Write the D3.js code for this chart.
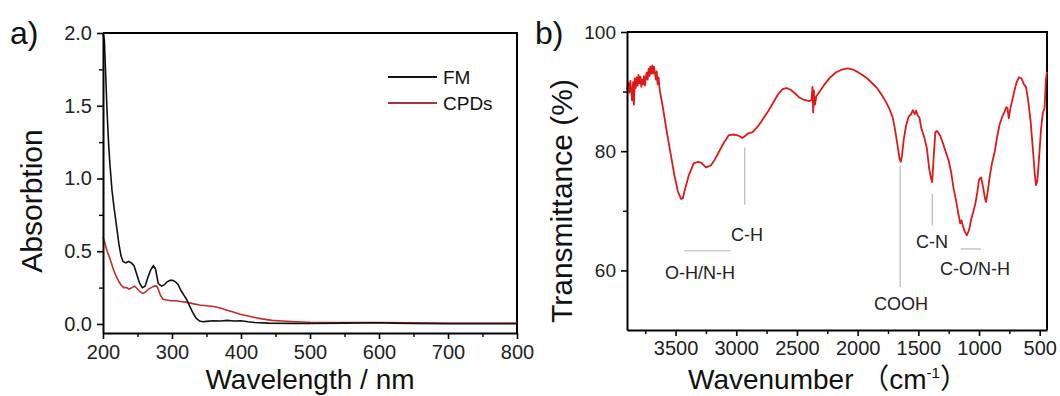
<!DOCTYPE html>
<html>
<head>
<meta charset="utf-8">
<script src="https://cdn.jsdelivr.net/npm/d3@7"></script>
<style>
  body { margin: 0; background: #fff; }
  svg { display: block; font-family: "Liberation Sans", Arial, sans-serif; }
</style>
</head>
<body>
<div id="chart"></div>
<script>
// panel a) UV-vis absorption
var fmWavelength = [200, 202, 204, 206, 208, 210, 213, 216, 220, 223, 226, 229, 233, 237, 241, 245, 249, 253, 257, 261, 265, 269, 273, 276, 278, 280, 282, 285, 289, 293, 297, 301, 305, 309, 313, 317, 321, 325, 330, 335, 340, 345, 350, 360, 370, 380, 390, 400, 410, 420, 440, 470, 500, 550, 600, 620, 650, 700, 750, 800];
var fmAbs = [2.0, 1.95, 1.7, 1.45, 1.25, 1.1, 0.92, 0.8, 0.66, 0.55, 0.47, 0.43, 0.42, 0.43, 0.42, 0.4, 0.34, 0.28, 0.25, 0.26, 0.32, 0.37, 0.4, 0.38, 0.33, 0.28, 0.27, 0.26, 0.27, 0.29, 0.3, 0.3, 0.29, 0.27, 0.23, 0.2, 0.17, 0.13, 0.08, 0.04, 0.02, 0.015, 0.018, 0.022, 0.02, 0.025, 0.02, 0.022, 0.015, 0.01, 0.006, 0.004, 0.003, 0.006, 0.008, 0.006, 0.003, 0.002, 0.002, 0.002];
var cpdWavelength = [200, 203, 206, 210, 214, 218, 222, 226, 230, 234, 238, 242, 246, 250, 254, 258, 262, 266, 270, 274, 278, 280, 283, 287, 292, 298, 305, 312, 320, 330, 340, 350, 360, 370, 380, 390, 400, 410, 420, 430, 445, 460, 480, 500, 550, 600, 650, 700, 750, 800];
var cpdAbs = [0.6, 0.55, 0.5, 0.45, 0.39, 0.34, 0.3, 0.27, 0.25, 0.25, 0.24, 0.25, 0.26, 0.24, 0.22, 0.21, 0.22, 0.24, 0.25, 0.26, 0.26, 0.24, 0.2, 0.17, 0.165, 0.16, 0.16, 0.155, 0.15, 0.14, 0.13, 0.125, 0.12, 0.11, 0.095, 0.08, 0.065, 0.055, 0.045, 0.035, 0.025, 0.02, 0.015, 0.012, 0.01, 0.01, 0.008, 0.007, 0.007, 0.007];
var absTicks = [0.0, 0.5, 1.0, 1.5, 2.0];
var absMinor = [0.25, 0.75, 1.25, 1.75];
var wlTicks = [200, 300, 400, 500, 600, 700, 800];
var wlMinor = [250, 350, 450, 550, 650, 750];

// panel b) FTIR
var irWavenumber = [3900, 3890, 3880, 3872, 3865, 3858, 3850, 3843, 3836, 3828, 3820, 3812, 3805, 3798, 3790, 3782, 3775, 3768, 3760, 3752, 3745, 3738, 3730, 3722, 3715, 3708, 3700, 3692, 3685, 3678, 3670, 3662, 3655, 3648, 3640, 3630, 3610, 3590, 3570, 3540, 3510, 3480, 3455, 3440, 3420, 3390, 3350, 3310, 3284, 3250, 3210, 3180, 3140, 3100, 3060, 3020, 2980, 2950, 2930, 2900, 2865, 2820, 2780, 2740, 2700, 2660, 2620, 2585, 2550, 2510, 2480, 2440, 2400, 2380, 2372, 2366, 2360, 2352, 2340, 2320, 2280, 2230, 2180, 2130, 2080, 2040, 2000, 1960, 1920, 1880, 1840, 1800, 1770, 1740, 1710, 1690, 1670, 1655, 1645, 1635, 1620, 1600, 1580, 1560, 1545, 1530, 1518, 1505, 1490, 1475, 1462, 1452, 1430, 1410, 1395, 1386, 1375, 1360, 1345, 1320, 1295, 1270, 1250, 1230, 1210, 1190, 1170, 1155, 1145, 1135, 1120, 1100, 1082, 1065, 1045, 1030, 1015, 1000, 983, 965, 950, 942, 930, 910, 893, 870, 850, 830, 810, 790, 775, 765, 755, 745, 730, 710, 690, 671, 650, 630, 613, 595, 575, 555, 540, 531, 520, 505, 490, 475, 460, 449, 440];
var irT = [90.3, 91.5, 89.8, 91.8, 90.2, 88.5, 91.6, 87.8, 92.2, 90.6, 92.4, 91.0, 92.8, 91.4, 92.5, 90.8, 92.0, 91.2, 92.6, 91.0, 92.4, 93.2, 92.0, 93.8, 92.6, 94.2, 93.0, 94.4, 93.0, 94.2, 93.2, 92.0, 93.4, 91.2, 92.4, 90.2, 88.0, 85.5, 83.0, 79.5, 76.0, 73.2, 72.0, 72.1, 73.8, 76.0, 78.0, 78.2, 78.0, 77.3, 77.6, 78.5, 80.0, 81.5, 82.7, 82.8, 82.6, 82.2, 82.5, 83.0, 83.2, 84.2, 85.4, 86.6, 88.0, 89.4, 90.4, 90.6, 90.3, 89.6, 89.0, 88.6, 88.4, 88.6, 90.8, 86.5, 90.2, 87.8, 89.2, 89.8, 91.0, 92.3, 93.2, 93.7, 93.9, 93.7, 93.3, 92.8, 92.2, 91.4, 90.6, 89.4, 88.4, 87.2, 85.6, 83.4, 80.8, 78.8, 78.2, 79.2, 82.0, 84.4, 85.8, 86.2, 86.9, 86.2, 86.8, 86.0, 85.6, 83.8, 83.0, 82.4, 80.5, 77.0, 75.4, 74.8, 78.5, 83.2, 83.4, 82.6, 81.2, 79.6, 78.4, 76.5, 73.8, 71.8, 69.5, 67.9, 68.4, 67.6, 66.6, 65.9, 66.8, 68.5, 70.0, 71.2, 73.0, 75.2, 75.6, 73.8, 72.0, 71.5, 73.0, 76.0, 78.0, 80.0, 82.5, 84.5, 85.7, 86.6, 87.4, 87.2, 85.5, 86.8, 88.2, 90.0, 91.6, 92.4, 92.2, 91.2, 90.8, 88.5, 85.0, 80.0, 76.0, 74.3, 75.0, 79.0, 83.5, 86.4, 87.2, 92.0, 93.3];
var tTicks = [60, 80, 100];
var tMinor = [70, 90];
var wnTicks = [3500, 3000, 2500, 2000, 1500, 1000, 500];
var wnMinor = [3750, 3250, 2750, 2250, 1750, 1250, 750];

var svg = d3.select("#chart").append("svg")
  .attr("width", 1060)
  .attr("height", 396);

function drawFrame(g, x, y) {
  var x0 = x.range()[0], x1 = x.range()[1], y0 = y.range()[0], y1 = y.range()[1];
  g.append("path")
    .attr("d", "M" + x0 + "," + y1 + "H" + x1 + "V" + y0)
    .attr("fill", "none").attr("stroke", "#000").attr("stroke-width", 2);
}

function styleAxis(a, size) {
  a.select(".domain").attr("stroke-width", 2);
  a.selectAll(".tick line").attr("stroke-width", 1.6);
  a.selectAll(".tick text").attr("font-size", size).attr("fill", "#222")
    .attr("font-family", "'Liberation Sans', Arial, sans-serif");
}

// ---- panel a ----
var xa = d3.scaleLinear().domain([200, 800]).range([103, 517]);
var ya = d3.scaleLinear().domain([-0.062, 2.0]).range([333, 33]);
var ga = svg.append("g");

drawFrame(ga, xa, ya);

var lineA = d3.line().x(function (d) { return xa(d[0]); }).y(function (d) { return ya(d[1]); });

ga.append("path")
  .datum(d3.zip(cpdWavelength, cpdAbs))
  .attr("d", lineA).attr("fill", "none").attr("stroke", "#c42a2a").attr("stroke-width", 1.6);
ga.append("path")
  .datum(d3.zip(fmWavelength, fmAbs))
  .attr("d", lineA).attr("fill", "none").attr("stroke", "#111").attr("stroke-width", 1.6);

var axA = ga.append("g").attr("transform", "translate(0," + ya.range()[0] + ")")
  .call(d3.axisBottom(xa).tickValues(wlTicks).tickSize(6).tickSizeOuter(0).tickPadding(6).tickFormat(d3.format("d")));
styleAxis(axA, 20);
ga.append("g").attr("transform", "translate(0," + ya.range()[0] + ")")
  .call(d3.axisBottom(xa).tickValues(wlMinor).tickSize(4).tickFormat(""))
  .call(function (a) { a.select(".domain").remove(); a.selectAll("line").attr("stroke-width", 1.4); });

var ayA = ga.append("g").attr("transform", "translate(" + xa.range()[0] + ",0)")
  .call(d3.axisLeft(ya).tickValues(absTicks).tickSize(6).tickSizeOuter(0).tickPadding(5).tickFormat(d3.format(".1f")));
styleAxis(ayA, 20);
ga.append("g").attr("transform", "translate(" + xa.range()[0] + ",0)")
  .call(d3.axisLeft(ya).tickValues(absMinor).tickSize(4).tickFormat(""))
  .call(function (a) { a.select(".domain").remove(); a.selectAll("line").attr("stroke-width", 1.4); });

ga.append("text").attr("x", 10).attr("y", 44).attr("font-size", 32).attr("fill", "#111").text("a)");
ga.append("text").attr("transform", "translate(42,201) rotate(-90)")
  .attr("text-anchor", "middle").attr("font-size", 30).attr("fill", "#111").text("Absorbtion");
ga.append("text").attr("x", 310).attr("y", 389)
  .attr("text-anchor", "middle").attr("font-size", 28).attr("fill", "#111").text("Wavelength / nm");

// legend
var legend = [["FM", "#111"], ["CPDs", "#a8323a"]];
legend.forEach(function (d, i) {
  var ly = 77 + i * 26;
  ga.append("line").attr("x1", 388).attr("x2", 437).attr("y1", ly).attr("y2", ly)
    .attr("stroke", d[1]).attr("stroke-width", 2);
  ga.append("text").attr("x", 443).attr("y", ly + 7).attr("font-size", 19).attr("fill", "#111").text(d[0]);
});

// ---- panel b ----
var xb = d3.scaleLinear().domain([3900, 440]).range([627, 1047]);
var yb = d3.scaleLinear().domain([50, 100]).range([330, 32]);
var gb = svg.append("g");

drawFrame(gb, xb, yb);

// peak assignment markers
var marks = [
  { label: "O-H/N-H", lx: 700, ly: 279, line: [[3430, 63.3], [3050, 63.3]] },
  { label: "C-H", lx: 747, ly: 241, line: [[2930, 80.6], [2930, 71.0]] },
  { label: "COOH", lx: 901, ly: 310, line: [[1650, 77.5], [1650, 57.2]] },
  { label: "C-N", lx: 932, ly: 248, line: [[1385, 72.8], [1385, 67.5]] },
  { label: "C-O/N-H", lx: 975, ly: 275, line: [[1150, 63.6], [985, 63.6]] }
];
marks.forEach(function (m) {
  gb.append("line")
    .attr("x1", xb(m.line[0][0])).attr("y1", yb(m.line[0][1]))
    .attr("x2", xb(m.line[1][0])).attr("y2", yb(m.line[1][1]))
    .attr("stroke", "#b8b8b8").attr("stroke-width", 1.2);
  gb.append("text").attr("x", m.lx).attr("y", m.ly).attr("text-anchor", "middle")
    .attr("font-size", 18).attr("fill", "#222").text(m.label);
});

var lineB = d3.line().x(function (d) { return xb(d[0]); }).y(function (d) { return yb(d[1]); });
gb.append("path")
  .datum(d3.zip(irWavenumber, irT))
  .attr("d", lineB).attr("fill", "none").attr("stroke", "#dc1a1a").attr("stroke-width", 1.8)
  .attr("stroke-linejoin", "round");

var axB = gb.append("g").attr("transform", "translate(0," + yb.range()[0] + ")")
  .call(d3.axisBottom(xb).tickValues(wnTicks).tickSize(6).tickSizeOuter(0).tickPadding(5).tickFormat(d3.format("d")));
styleAxis(axB, 20);
gb.append("g").attr("transform", "translate(0," + yb.range()[0] + ")")
  .call(d3.axisBottom(xb).tickValues(wnMinor).tickSize(4).tickFormat(""))
  .call(function (a) { a.select(".domain").remove(); a.selectAll("line").attr("stroke-width", 1.4); });

var ayB = gb.append("g").attr("transform", "translate(" + xb.range()[0] + ",0)")
  .call(d3.axisLeft(yb).tickValues(tTicks).tickSize(6).tickSizeOuter(0).tickPadding(5).tickFormat(d3.format("d")));
styleAxis(ayB, 19);
gb.append("g").attr("transform", "translate(" + xb.range()[0] + ",0)")
  .call(d3.axisLeft(yb).tickValues(tMinor).tickSize(4).tickFormat(""))
  .call(function (a) { a.select(".domain").remove(); a.selectAll("line").attr("stroke-width", 1.4); });

gb.append("text").attr("x", 535).attr("y", 44).attr("font-size", 32).attr("fill", "#111").text("b)");
gb.append("text").attr("transform", "translate(572,201) rotate(-90)")
  .attr("text-anchor", "middle").attr("font-size", 30).attr("fill", "#111").text("Transmittance (%)");
var xt = gb.append("text").attr("x", 688).attr("y", 389)
  .attr("font-size", 28).attr("fill", "#111")
  .attr("font-family", "'Liberation Sans', 'Noto Sans CJK SC', sans-serif");
xt.append("tspan").text("Wavenumber ");
xt.append("tspan").attr("font-family", "'Noto Sans CJK SC', sans-serif").text("（");
xt.append("tspan").text("cm");
xt.append("tspan").attr("dy", -11).attr("font-size", 15).text("-1");
xt.append("tspan").attr("dy", 11).attr("font-family", "'Noto Sans CJK SC', sans-serif").text("）");
</script>
</body>
</html>
